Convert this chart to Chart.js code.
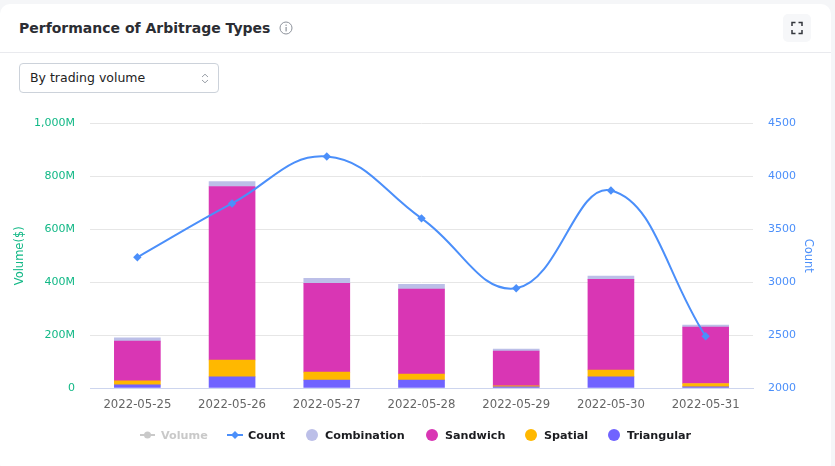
<!DOCTYPE html>
<html><head><meta charset="utf-8">
<script src="https://cdn.jsdelivr.net/npm/chart.js@4"></script>
<style>
html,body{margin:0;padding:0;width:835px;height:466px;overflow:hidden;background:#f5f6f8;font-family:"DejaVu Sans",sans-serif}
#card{position:absolute;left:0;top:4px;width:831px;height:470px;background:#fff;border-radius:10px}
#head{position:absolute;left:0;top:52px;width:831px;height:1px;background:#e9eaee}
#title{position:absolute;left:19px;top:19px;font-size:14px;font-weight:bold;color:#2b2d33;line-height:18px;white-space:nowrap}
#info{position:absolute;left:279px;top:21px}
#full{position:absolute;left:783px;top:14px;width:28px;height:28px;background:#f6f7f9;border-radius:5px}
#sel{position:absolute;left:19px;top:63px;width:198px;height:28px;border:1px solid #ccd2da;border-radius:4px;font-size:12.5px;line-height:28px;color:#222;text-indent:10px}
#sel svg{position:absolute;right:9px;top:9px}
#wrap{position:absolute;left:0;top:102px;width:835px;height:364px}
#legend{position:absolute;top:426px;left:140px;height:18px;font-size:11.2px;font-weight:bold;color:#1b1c20;white-space:nowrap}
#legend .i{display:flex;align-items:center;position:absolute;top:0;height:18px}
#legend svg{display:block;margin-right:6px}
</style></head><body>
<div id="card"></div><div id="head"></div>
<div id="title">Performance of Arbitrage Types</div>
<svg id="info" width="14" height="14" viewBox="0 0 14 14"><circle cx="7" cy="7" r="6" fill="none" stroke="#8e939c"/><rect x="6.5" y="6" width="1.2" height="4.4" fill="#8e939c"/><rect x="6.5" y="3.6" width="1.2" height="1.3" fill="#8e939c"/></svg>
<div id="full"><svg width="28" height="28" viewBox="0 0 28 28" fill="none" stroke="#33363c" stroke-width="1.5"><path d="M9 12V8.5H12.5M15.5 8.5H19V12M19 16V19.500H15.500M12.500 19.500H9V16"/></svg></div>
<div id="sel">By trading volume<svg width="8" height="11" viewBox="0 0 8 11" fill="none" stroke="#9aa0a8"><path d="M1 4L4 1.200L7 4M1 7L4 9.800L7 7"/></svg></div>
<div id="wrap"><canvas id="c"></canvas></div>
<div id="legend"></div>
<script>
const dates=["2022-05-25","2022-05-26","2022-05-27","2022-05-28","2022-05-29","2022-05-30","2022-05-31"];
const volume=[190,781,415,392,147,423,238];
const count=[3236,3745,4189,3604,2943,3868,2490];
const triangular=[12,42,30,30,4,42,4];
const spatial=[15,64,30,23,4,26,13];
const sandwich=[150,656,336,321,132,343,213];
const combination=[13,19,19,18,7,12,8];
const volumeTicks=[0,200,400,600,800,1000];
const countTicks=[2000,2500,3000,3500,4000,4500];
const legendNames=["Volume","Count","Combination","Sandwich","Spatial","Triangular"];
const legendColors=["#c9c9c9","#4b8ffa","#bcbfe8","#d936b4","#ffb800","#7063ff"];
const legendX=[0,87,166,286,385,468];
const F="'DejaVu Sans',sans-serif";
const bar=(label,data,color)=>({type:'bar',label,data,backgroundColor:color,stack:'a',yAxisID:'y',barThickness:46,order:2});
new Chart(document.getElementById('c'),{
 data:{labels:dates,datasets:[
  {type:'line',label:'Volume',data:volume,yAxisID:'y',hidden:true,borderColor:legendColors[0],stack:'v'},
  {type:'line',label:'Count',data:count,yAxisID:'y1',borderColor:legendColors[1],backgroundColor:legendColors[1],borderWidth:2,tension:0.42,pointStyle:'rectRot',pointRadius:4.2,pointBackgroundColor:legendColors[1],pointBorderWidth:0,order:1,stack:'c',fill:false},
  bar('Triangular',triangular,legendColors[5]),
  bar('Spatial',spatial,legendColors[4]),
  bar('Sandwich',sandwich,legendColors[3]),
  bar('Combination',combination,legendColors[2])
 ]},
 options:{responsive:true,maintainAspectRatio:false,animation:false,
  layout:{padding:{top:6,left:0,right:0,bottom:0}},
  plugins:{legend:{display:false},tooltip:{enabled:false}},
  scales:{
   x:{stacked:true,grid:{display:false,drawTicks:false},border:{color:'#cdd5ee',width:1},
      ticks:{color:'#666',font:{family:F,size:11.7},padding:10,maxRotation:0,autoSkip:false},
      afterFit(s){s.height=78}},
   y:{stacked:true,position:'left',min:0,max:1000,
      afterBuildTicks(s){s.ticks=volumeTicks.map(v=>({value:v}))},
      grid:{color:'#e6e6e6',drawTicks:false},border:{display:false},
      ticks:{color:'#12b886',font:{family:F,size:11},padding:15,callback:v=>v===0?'0':v.toLocaleString('en-US')+'M'},
      title:{display:true,text:'Volume($)',color:'#12b886',font:{family:F,size:11.5},padding:{top:13,bottom:4}},
      afterFit(s){s.width=90}},
   y1:{position:'right',min:2000,max:4500,
      afterBuildTicks(s){s.ticks=countTicks.map(v=>({value:v}))},
      grid:{display:false,drawTicks:false},border:{display:false},
      ticks:{color:'#4b8ffa',font:{family:F,size:11},padding:15,callback:v=>String(v)},
      title:{display:true,text:'Count',color:'#4b8ffa',font:{family:F,size:11.5},padding:{top:20,bottom:4}},
      afterFit(s){s.width=82}}
  }}
});
const lg=document.getElementById('legend');
legendNames.forEach((n,i)=>{
 const d=document.createElement('div');d.className='i';d.style.left=legendX[i]+'px';
 const c=legendColors[i];
 let icon;
 if(i===0)icon=`<svg width="15" height="12"><rect y="5" width="15" height="2" fill="${c}"/><circle cx="7.500" cy="6" r="3.500" fill="${c}"/></svg>`;
 else if(i===1)icon=`<svg width="16" height="12" style="margin-right:5px"><rect y="5" width="16" height="2" fill="${c}"/><path d="M8 2L12 6L8 10L4 6Z" fill="${c}"/></svg>`;
 else icon=`<svg width="12" height="12" style="margin-right:7px"><circle cx="6" cy="6" r="6" fill="${c}"/></svg>`;
 d.innerHTML=icon+`<span style="color:${i===0?c:'#1b1c20'}">${n}</span>`;
 lg.appendChild(d);
});
</script>
</body></html>
